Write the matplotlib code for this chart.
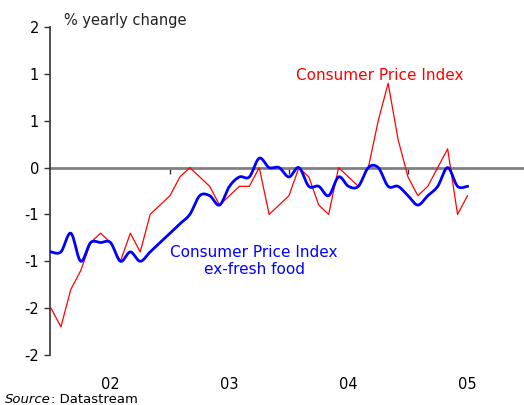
import numpy as np
import matplotlib
matplotlib.use('Agg')
import matplotlib.pyplot as plt

# monthly, Jan 2002 .. Jul 2005
cpi = [-1.5, -1.7, -1.3, -1.1, -0.8, -0.7, -0.8, -1.0, -0.7, -0.9, -0.5, -0.4,
       -0.3, -0.1, 0.0, -0.1, -0.2, -0.4, -0.3, -0.2, -0.2, 0.0, -0.5, -0.4,
       -0.3, 0.0, -0.1, -0.4, -0.5, 0.0, -0.1, -0.2, 0.0, 0.5, 0.9, 0.3,
       -0.1, -0.3, -0.2, 0.0, 0.2, -0.5, -0.3]
core = [-0.9, -0.9, -0.7, -1.0, -0.8, -0.8, -0.8, -1.0, -0.9, -1.0, -0.9, -0.8,
        -0.7, -0.6, -0.5, -0.3, -0.3, -0.4, -0.2, -0.1, -0.1, 0.1, 0.0, 0.0,
        -0.1, 0.0, -0.2, -0.2, -0.3, -0.1, -0.2, -0.2, 0.0, 0.0, -0.2, -0.2,
        -0.3, -0.4, -0.3, -0.2, 0.0, -0.2, -0.2]
year_labels = ['02', '03', '04', '05']
y_ticks = [-2.0, -1.5, -1.0, -0.5, 0.0, 0.5, 1.0, 1.5]
y_labels = ['-2', '-2', '-1', '-1', '0', '1', '1', '2']


def smooth(x, y, n=12):
    # Catmull-Rom curve through the points, like a spreadsheet "smoothed line"
    x = np.asarray(x, float)
    y = np.asarray(y, float)
    px = np.concatenate([[x[0]], x, [x[-1]]])
    py = np.concatenate([[y[0]], y, [y[-1]]])
    xs, ys = [], []
    t = np.linspace(0, 1, n, endpoint=False)
    for i in range(1, len(px) - 2):
        for p, out in ((px, xs), (py, ys)):
            p0, p1, p2, p3 = p[i - 1], p[i], p[i + 1], p[i + 2]
            out.extend(0.5 * (2 * p1 + (-p0 + p2) * t + (2 * p0 - 5 * p1 + 4 * p2 - p3) * t ** 2
                              + (-p0 + 3 * p1 - 3 * p2 + p3) * t ** 3))
    xs.append(x[-1]); ys.append(y[-1])
    return np.array(xs), np.array(ys)


months = np.arange(len(cpi))

fig = plt.figure(figsize=(5.24, 4.05), dpi=100)
ax = fig.add_axes([50 / 524, 50 / 405, 474 / 524, 328 / 405])

ax.plot(months, cpi, color='#ff0000', linewidth=0.9, zorder=3)
sx, sy = smooth(months, core)
ax.plot(sx, sy, color='#0000ff', linewidth=2.0, zorder=4)

ax.set_xlim(-0.1, 47.7)
ax.set_ylim(-2.0, 1.5)

ax.set_yticks(y_ticks)
ax.set_yticklabels(y_labels, fontsize=10.5)
ax.tick_params(axis='y', direction='out', length=4, width=1, color='#333333', pad=4)

ax.set_xticks([6 + 12 * i for i in range(len(year_labels))])
ax.set_xticklabels(year_labels, fontsize=10.5)
ax.tick_params(axis='x', length=0, pad=16)

for s in ['top', 'right', 'bottom']:
    ax.spines[s].set_visible(False)
ax.spines['left'].set_color('#333333')
ax.spines['left'].set_linewidth(1.2)

# zero line with year boundary ticks (pointing down)
zero = ax.secondary_xaxis(2.0 / 3.5)
zero.set_xticks([12, 24, 36])
zero.set_xticklabels(['', '', ''])
zero.tick_params(axis='x', direction='in', length=4, width=1, color='#333333',
                 labeltop=False, labelbottom=False)
zero.spines['bottom'].set_color('#808080')
zero.spines['bottom'].set_linewidth(2)
zero.spines['top'].set_color('#808080')
zero.spines['top'].set_linewidth(2)

fig.text(64 / 524, 1 - 20 / 405, '% yearly change', fontsize=10.5,
         va='center', ha='left', color='#222222')
fig.text(380 / 524, 1 - 76 / 405, 'Consumer Price Index', fontsize=11, color='#ff0000',
         ha='center', va='center')
fig.text(254 / 524, 1 - 261 / 405, 'Consumer Price Index\nex-fresh food', fontsize=11,
         color='#0000ff', ha='center', va='center', linespacing=1.1)

src = fig.text(5 / 524, 1 - 403 / 405, 'Source', fontsize=9.5, style='italic',
               va='baseline', ha='left')
ax.annotate(': Datastream', xy=(1, 0), xycoords=src, fontsize=9.5,
            va='bottom', ha='left', annotation_clip=False)

fig.savefig('out.png', dpi=100)
